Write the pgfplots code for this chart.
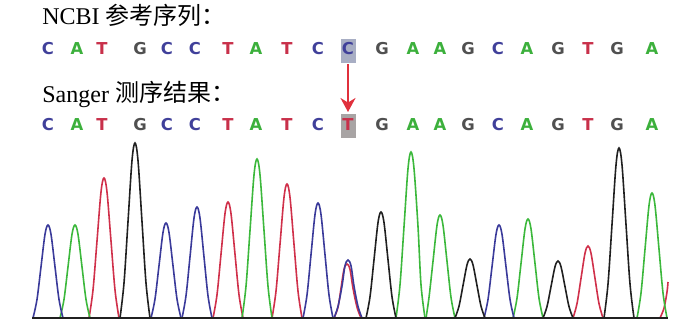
\documentclass[border=0pt]{standalone}
\usepackage{pgfplots}
\pgfplotsset{compat=1.18}
\usepackage{fontspec}
\setmainfont{Liberation Serif}
\newfontfamily\cjk{Noto Sans CJK SC}
\newfontfamily\basefont{DejaVu Sans}
\usetikzlibrary{arrows.meta}
\definecolor{cB}{HTML}{3A3A9A}
\definecolor{cG}{HTML}{3CB83C}
\definecolor{cR}{HTML}{D0304A}
\definecolor{cK}{HTML}{202020}
\definecolor{lC}{HTML}{40409A}
\definecolor{lA}{HTML}{3CB03C}
\definecolor{lT}{HTML}{C8304A}
\definecolor{lG}{HTML}{505050}
\definecolor{boxTop}{HTML}{A8AEC4}
\definecolor{boxBot}{HTML}{A8A4A4}
\definecolor{arr}{HTML}{E0303C}
\tikzset{baseltr/.style={anchor=base,inner sep=0pt,font=\basefont\bfseries\fontsize{8.2}{9}\selectfont}}
\begin{document}
\begin{tikzpicture}
\begin{axis}[width=350pt,height=161pt,scale only axis,xmin=0,xmax=700,ymin=0,ymax=322,hide axis,clip=false,
  every axis plot/.append style={line width=0.8pt,smooth,tension=0.55}]
\path (rel axis cs:0,0) rectangle (rel axis cs:1,1);
% titles
\node[anchor=base west,inner sep=0pt,font=\fontsize{12}{14}\selectfont] at (axis cs:42,297) {NCBI {\cjk 参考序列：}};
\node[anchor=base west,inner sep=0pt,font=\fontsize{12}{14}\selectfont] at (axis cs:42,220) {Sanger {\cjk 测序结果：}};
% boxes and arrow
\fill[boxTop] (axis cs:340.5,259) rectangle (axis cs:356,283);
\fill[boxBot] (axis cs:340.5,184) rectangle (axis cs:356,208);
\draw[arr,line width=1pt,-{Stealth[length=7pt,width=7.5pt]}] (axis cs:348,258) -- (axis cs:348,210);
% base letters
\foreach \xx/\bb/\cc in {48/C/lC,77/A/lA,102/T/lT,140/G/lG,167/C/lC,195/C/lC,228/T/lT,256/A/lA,287/T/lT,318/C/lC,348/C/lC,382/G/lG,413/A/lA,440/A/lA,468/G/lG,498/C/lC,527/A/lA,558/G/lG,588/T/lT,617/G/lG,652/A/lA}{
  \edef\tmp{\noexpand\node[baseltr,text=\cc] at (axis cs:\xx,267) {\bb};}\tmp
}
\foreach \xx/\bb/\cc in {48/C/lC,77/A/lA,102/T/lT,140/G/lG,167/C/lC,195/C/lC,228/T/lT,256/A/lA,287/T/lT,318/C/lC,348/T/lT,382/G/lG,413/A/lA,440/A/lA,468/G/lG,498/C/lC,527/A/lA,558/G/lG,588/T/lT,617/G/lG,652/A/lA}{
  \edef\tmp{\noexpand\node[baseltr,text=\cc] at (axis cs:\xx,192) {\bb};}\tmp
}
% red (T) peaks
\addplot[cR] coordinates {(89,4)(93,32)(97,81)(101,130)(104,144)(107,130)(111,81)(115,32)(119,4)};
\addplot[cR] coordinates {(213,4)(217,27.2)(221,67.8)(225,108.4)(228,120)(231,108.4)(235,67.8)(239,27.2)(243,4)};
\addplot[cR] coordinates {(272,4)(276,30.8)(280,77.7)(284,124.6)(287,138)(290,124.6)(294,77.7)(298,30.8)(302,4)};
\addplot[cR] coordinates {(334,4)(338,14.8)(341,33.7)(344,52.6)(347,58)(350,52.6)(353,33.7)(357,14.8)(361,4)};
\addplot[cR] coordinates {(573,4)(577,18.4)(581,43.6)(585,68.8)(588,76)(591,68.8)(595,43.6)(599,18.4)(603,4)};
\addplot[cR] coordinates {(660,4)(664,14)(667,30)(668,40)};
% green (A) peaks
\addplot[cG] coordinates {(60,4)(64,22.6)(68,55.2)(72,87.7)(75,97)(78,87.7)(82,55.2)(86,22.6)(90,4)};
\addplot[cG] coordinates {(242,4)(246,35.8)(250,91.5)(254,147.1)(257,163)(260,147.1)(264,91.5)(268,35.8)(272,4)};
\addplot[cG] coordinates {(396,4)(400,37.2)(404,95.3)(408,153.4)(411,170)(414,153.4)(418,95.3)(421,37.2)(425,4)};
\addplot[cG] coordinates {(426,4)(429,24.6)(433,60.7)(437,96.7)(440,107)(443,96.7)(447,60.7)(451,24.6)(455,4)};
\addplot[cG] coordinates {(513,4)(517,23.8)(521,58.5)(525,93.1)(528,103)(531,93.1)(535,58.5)(539,23.8)(543,4)};
\addplot[cG] coordinates {(637,4)(641,29)(645,72.8)(649,116.5)(652,129)(655,116.5)(659,72.8)(663,29)(667,4)};
% blue (C) peaks
\addplot[cB] coordinates {(33,4)(37,22.6)(41,55.2)(45,87.7)(48,97)(51,87.7)(55,55.2)(59,22.6)(63,4)};
\addplot[cB] coordinates {(151,4)(155,23)(159,56.3)(163,89.5)(166,99)(169,89.5)(173,56.3)(177,23)(181,4)};
\addplot[cB] coordinates {(182,4)(186,26.2)(190,65.1)(194,103.9)(197,115)(200,103.9)(204,65.1)(208,26.2)(212,4)};
\addplot[cB] coordinates {(303,4)(307,27)(311,67.3)(315,107.5)(318,119)(321,107.5)(325,67.3)(329,27)(333,4)};
\addplot[cB] coordinates {(334,4)(338,15.6)(342,35.9)(345,56.2)(348,62)(351,56.2)(354,35.9)(358,15.6)(362,4)};
\addplot[cB] coordinates {(484,4)(488,22.6)(492,55.2)(496,87.7)(499,97)(502,87.7)(506,55.2)(510,22.6)(514,4)};
% black (G) peaks
\addplot[cK] coordinates {(120,4)(124,39)(128,100.3)(132,161.5)(135,179)(138,161.5)(142,100.3)(146,39)(150,4)};
\addplot[cK] coordinates {(366,4)(370,25.2)(374,62.3)(378,99.4)(381,110)(384,99.4)(388,62.3)(392,25.2)(396,4)};
\addplot[cK] coordinates {(455,4)(459,15.8)(463,36.5)(467,57.1)(470,63)(473,57.1)(477,36.5)(481,15.8)(485,4)};
\addplot[cK] coordinates {(543,4)(547,15.4)(551,35.4)(555,55.3)(558,61)(561,55.3)(565,35.4)(569,15.4)(573,4)};
\addplot[cK] coordinates {(604,4)(608,38)(612,97.5)(616,157)(619,174)(622,157)(626,97.5)(630,38)(634,4)};
% baseline
\addplot[cK,line width=1.1pt,sharp plot] coordinates {(32,4)(668,4)};
\end{axis}
\end{tikzpicture}
\end{document}
